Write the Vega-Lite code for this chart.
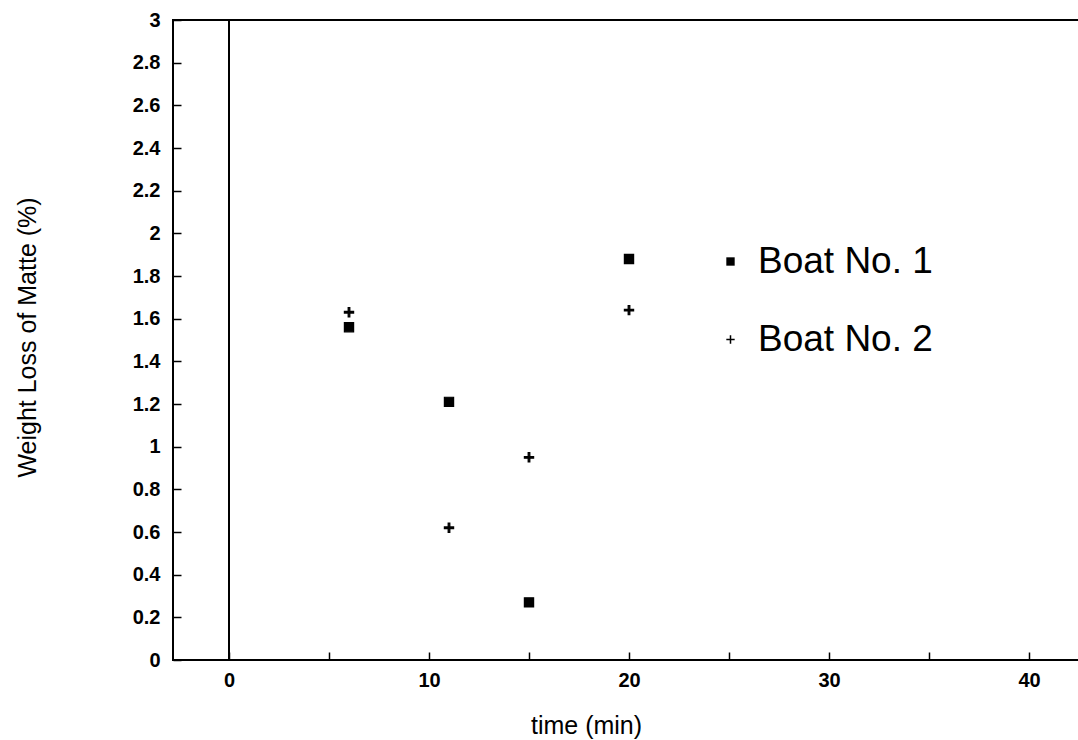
{
  "$schema": "https://vega.github.io/schema/vega-lite/v6.json",
  "autosize": "none",
  "width": 906,
  "height": 640,
  "padding": {"left": 173, "top": 20, "right": 0, "bottom": 80},
  "background": "white",
  "config": {
    "view": {"stroke": "black", "strokeWidth": 2},
    "font": "Liberation Sans",
    "axis": {
      "domain": false,
      "grid": false,
      "ticks": true,
      "tickColor": "black",
      "tickWidth": 1.5,
      "tickSize": -8,
      "labelColor": "black",
      "labelFont": "Liberation Sans",
      "labelFontWeight": "bold",
      "labelFontSize": 20,
      "titleFont": "Liberation Sans",
      "titleFontWeight": "normal",
      "titleFontSize": 25,
      "titleColor": "black"
    }
  },
  "datasets": {
    "points": [
      {"time": 6, "loss": 1.56, "series": "Boat No. 1"},
      {"time": 11, "loss": 1.21, "series": "Boat No. 1"},
      {"time": 15, "loss": 0.27, "series": "Boat No. 1"},
      {"time": 20, "loss": 1.88, "series": "Boat No. 1"},
      {"time": 6, "loss": 1.63, "series": "Boat No. 2"},
      {"time": 11, "loss": 0.62, "series": "Boat No. 2"},
      {"time": 15, "loss": 0.95, "series": "Boat No. 2"},
      {"time": 20, "loss": 1.64, "series": "Boat No. 2"}
    ]
  },
  "layer": [
    {
      "data": {"values": [{"x": 0}]},
      "mark": {"type": "rule", "color": "black", "strokeWidth": 2},
      "encoding": {
        "x": {"field": "x", "type": "quantitative", "scale": {"domain": [-2.8, 42.5], "nice": false, "zero": false}}
      }
    },
    {
      "data": {"name": "points"},
      "mark": {"type": "point", "filled": true, "fill": "black", "stroke": "black", "strokeWidth": 1.2, "opacity": 1, "size": 85},
      "encoding": {
        "x": {
          "field": "time", "type": "quantitative",
          "scale": {"domain": [-2.8, 42.5], "nice": false, "zero": false},
          "axis": {
            "title": "time (min)",
            "values": [0, 5, 10, 15, 20, 25, 30, 35, 40],
            "labelExpr": "datum.value % 10 == 0 ? datum.label : ''",
            "labelPadding": 18,
            "titleX": 413,
            "titleY": 65,
            "titleBaseline": "middle",
            "titleAlign": "center"
          }
        },
        "y": {
          "field": "loss", "type": "quantitative",
          "scale": {"domain": [0, 3], "nice": false},
          "axis": {
            "title": "Weight Loss of Matte (%)",
            "values": [0, 0.2, 0.4, 0.6, 0.8, 1, 1.2, 1.4, 1.6, 1.8, 2, 2.2, 2.4, 2.6, 2.8, 3],
            "format": "~g",
            "labelPadding": 21,
            "titleX": -146,
            "titleY": 317,
            "titleBaseline": "middle",
            "titleAlign": "center"
          }
        },
        "shape": {
          "field": "series", "type": "nominal",
          "scale": {"domain": ["Boat No. 1", "Boat No. 2"], "range": ["square", "M-1,-0.18H1V0.18H-1Z M-0.18,-1H0.18V1H-0.18Z"]},
          "legend": {
            "title": null,
            "orient": "none",
            "legendX": 539,
            "legendY": 223,
            "labelFontSize": 37,
            "labelLimit": 500,
            "labelFont": "Liberation Sans",
            "labelColor": "black",
            "symbolSize": 70,
            "symbolFillColor": "black",
            "symbolStrokeColor": "black",
            "symbolStrokeWidth": 1.2,
            "labelOffset": 9,
            "rowPadding": 40,
            "encode": {
              "symbols": {
                "update": {
                  "stroke": {"value": "black"},
                  "strokeWidth": {"value": 1.2},
                  "fill": {"value": "black"},
                  "opacity": {"value": 1}
                }
              }
            }
          }
        }
      }
    }
  ]
}
